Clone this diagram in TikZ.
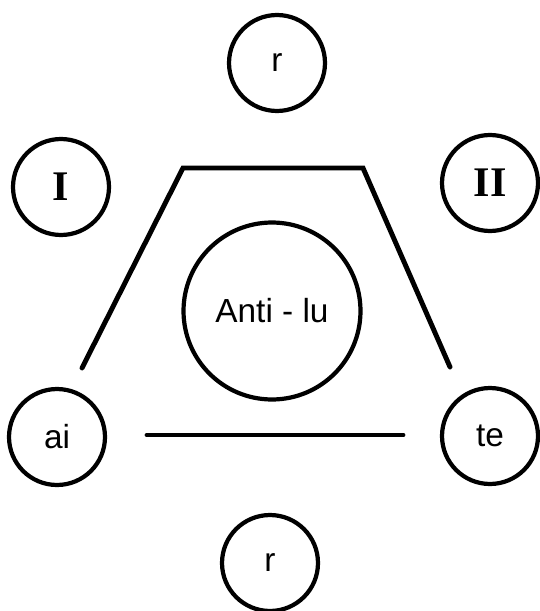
\documentclass[tikz,border=0pt]{standalone}
\usepackage{fontspec}
\setmainfont{Liberation Sans}
\newfontfamily\romanfont{Liberation Serif}
\usetikzlibrary{positioning}

\begin{document}
\begin{tikzpicture}[
    x=0.02cm, y=-0.02cm,
    ring/.style={draw, circle, line width=2.4pt, minimum size=1.92cm, inner sep=0pt, font=\fontsize{19}{22}\selectfont},
    romanring/.style={ring, font=\romanfont\bfseries\fontsize{24}{27}\selectfont},
    antiring/.style={draw, circle, line width=2.4pt, minimum size=3.54cm, inner sep=0pt, font=\fontsize{19}{22}\selectfont},
    bar/.style={line width=2.8pt, line cap=round}
]
\useasboundingbox (0,0) rectangle (539,611);

% Vòng giữa
\node[antiring] (anti) at (272,311) {Anti - lu};

% Các vòng bên ngoài
\node[ring] (rtop) at (277,63) {r};
\node[romanring] (one) at (61,187) {I};
\node[romanring] (two) at (490,183) {II};
\node[ring] (ai) at (57,437) {ai};
\node[ring] (te) at (490,436) {te};
\node[ring] (rbot) at (270,563) {r};

% Các điểm của đường
\coordinate (lb) at (82,368);
\coordinate (lt) at (183,168);
\coordinate (rt) at (363,168);
\coordinate (rb) at (450,367);
\coordinate (hl) at (147,435);
\coordinate (hr) at (403,435);

% Vẽ các đường
\draw[bar] (lb) -- (lt) -- (rt) -- (rb);
\draw[bar] (hl) -- (hr);

\end{tikzpicture}
\end{document}
